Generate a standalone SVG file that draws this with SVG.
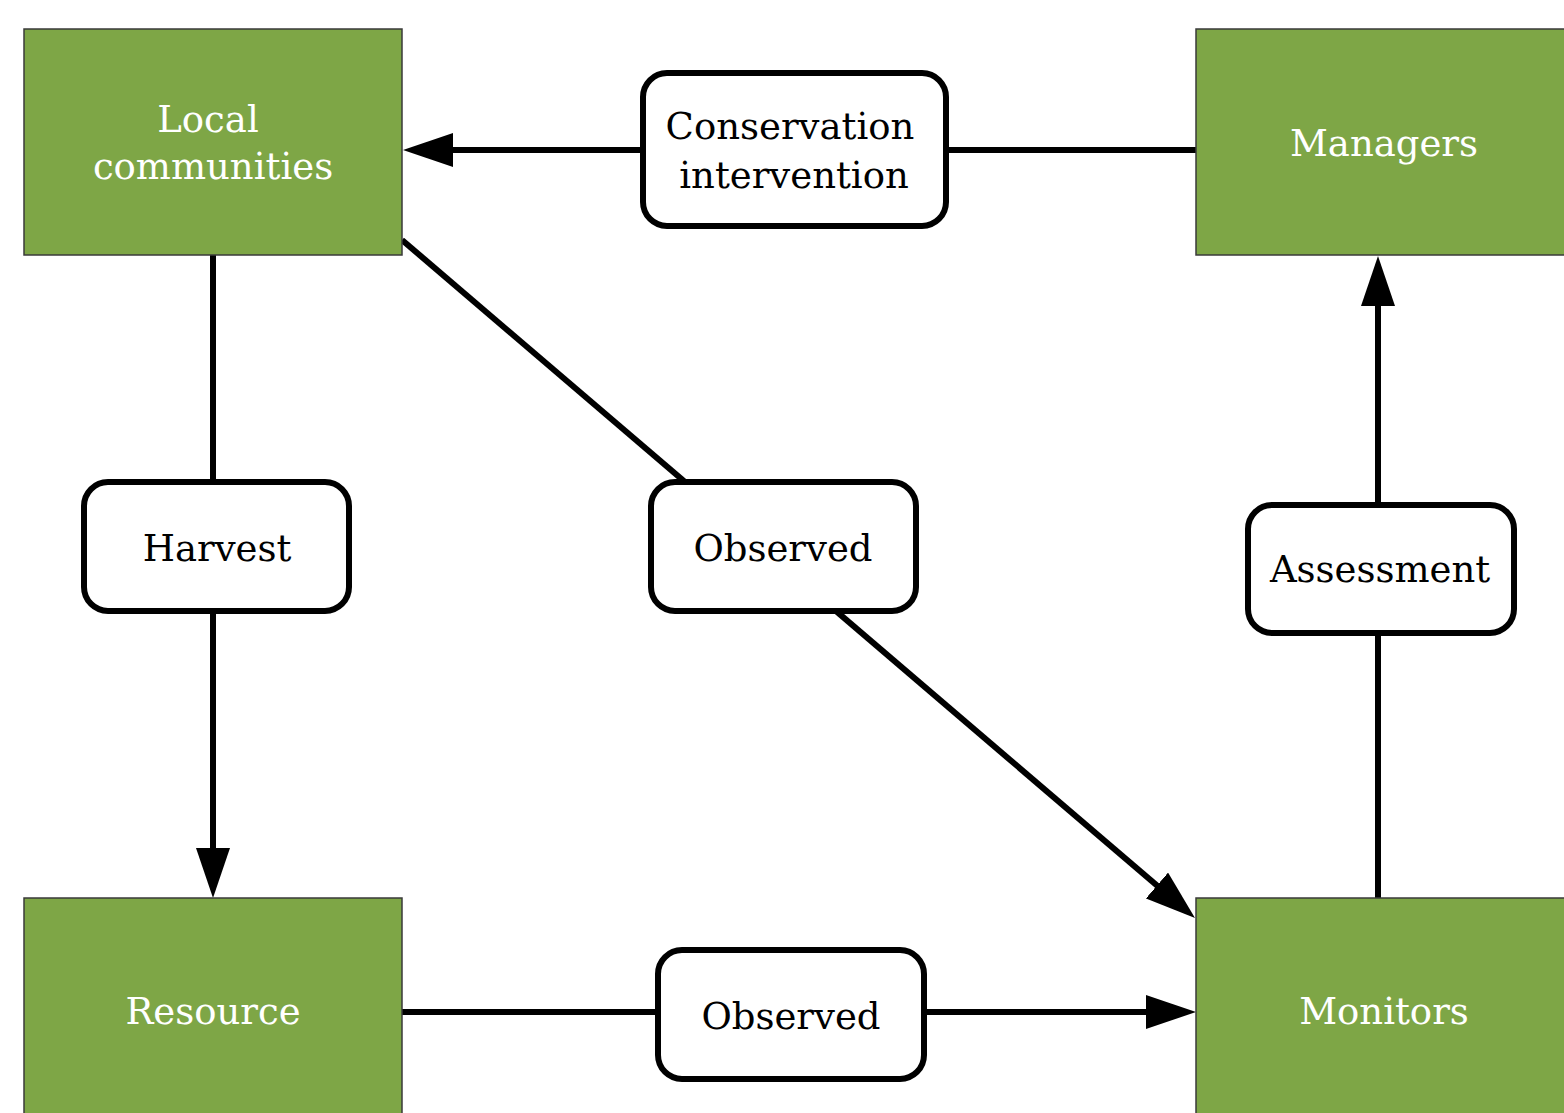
<svg xmlns="http://www.w3.org/2000/svg" width="1564" height="1113" viewBox="0 0 1564 1113">
<style>
.node{fill:#7ea646;stroke:#3a3a3a;stroke-width:1.5}
.nt{font-family:"DejaVu Serif","Liberation Serif",serif;font-size:37px;fill:#ffffff;text-anchor:middle}
.lbl{fill:#ffffff;stroke:#000000;stroke-width:6}
.lt{font-family:"DejaVu Serif","Liberation Serif",serif;font-size:37px;fill:#000000;text-anchor:middle}
.edge{stroke:#000000;stroke-width:6;fill:none}
</style>
<defs>
<marker id="arr" markerUnits="userSpaceOnUse" markerWidth="50" markerHeight="34" refX="40" refY="17" orient="auto" viewBox="0 0 50 34">
<path d="M0,0 L50,17 L0,34 z" fill="#000000"/>
</marker>
</defs>
<g id="connectors">
<line class="edge" x1="1196" y1="150" x2="413" y2="150" marker-end="url(#arr)"/>
<line class="edge" x1="213" y1="255" x2="213" y2="888" marker-end="url(#arr)"/>
<line class="edge" x1="402" y1="240" x2="1187.4" y2="911.5" marker-end="url(#arr)"/>
<line class="edge" x1="402" y1="1012" x2="1186" y2="1012" marker-end="url(#arr)"/>
<line class="edge" x1="1378" y1="898" x2="1378" y2="266" marker-end="url(#arr)"/>
</g>
<g id="local-communities">
<rect class="node" x="24" y="29" width="378" height="226"/>
<text class="nt" x="208" y="132">Local</text>
<text class="nt" x="213" y="179">communities</text>
</g>
<g id="managers">
<rect class="node" x="1196" y="29" width="380" height="226"/>
<text class="nt" x="1384" y="156">Managers</text>
</g>
<g id="resource">
<rect class="node" x="24" y="898" width="378" height="230"/>
<text class="nt" x="213" y="1024">Resource</text>
</g>
<g id="monitors">
<rect class="node" x="1196" y="898" width="380" height="230"/>
<text class="nt" x="1384" y="1024">Monitors</text>
</g>
<g id="label-conservation">
<rect class="lbl" x="643" y="73" width="303" height="153" rx="24"/>
<text class="lt" x="790" y="139">Conservation</text>
<text class="lt" x="794" y="188">intervention</text>
</g>
<g id="label-harvest">
<rect class="lbl" x="84" y="482" width="265" height="129" rx="24"/>
<text class="lt" x="217" y="561">Harvest</text>
</g>
<g id="label-observed-mid">
<rect class="lbl" x="651" y="482" width="265" height="129" rx="24"/>
<text class="lt" x="783" y="561">Observed</text>
</g>
<g id="label-assessment">
<rect class="lbl" x="1248" y="505" width="266" height="128" rx="24"/>
<text class="lt" x="1380" y="582">Assessment</text>
</g>
<g id="label-observed-bottom">
<rect class="lbl" x="658" y="950" width="266" height="129" rx="24"/>
<text class="lt" x="791" y="1029">Observed</text>
</g>
</svg>
